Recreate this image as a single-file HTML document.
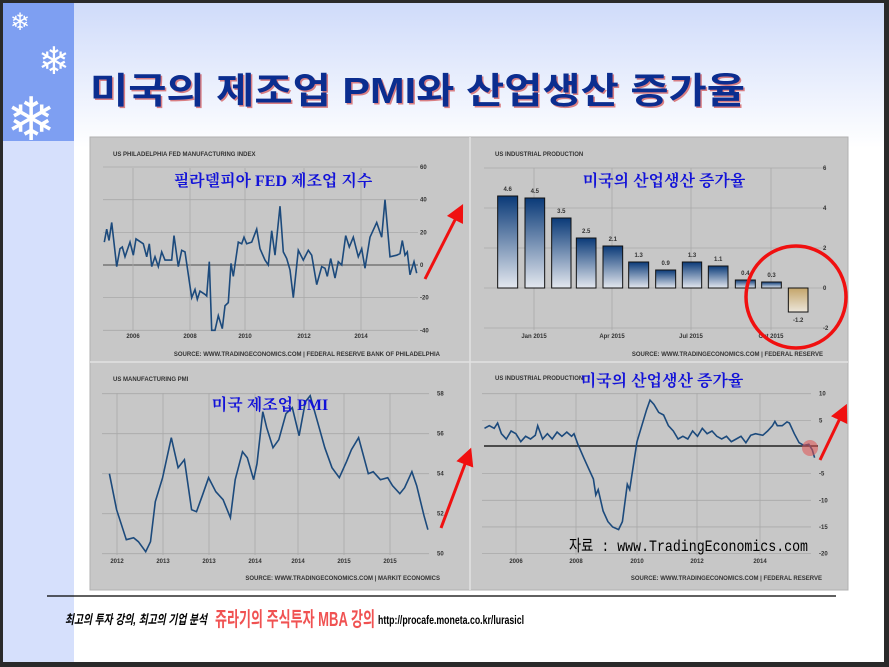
<!DOCTYPE html>
<html><head><meta charset="utf-8"><style>
html,body{margin:0;padding:0;background:#222}
svg{display:block}
</style></head><body>
<svg id="s" width="889" height="667" xmlns="http://www.w3.org/2000/svg" font-family="Liberation Sans, Noto Sans CJK KR, sans-serif">
<defs>
<linearGradient id="bg" x1="0" y1="0" x2="0" y2="1">
<stop offset="0" stop-color="#cfdbfa"/><stop offset="0.22" stop-color="#ffffff"/><stop offset="1" stop-color="#ffffff"/>
</linearGradient>
<linearGradient id="bar" x1="0" y1="0" x2="0" y2="1">
<stop offset="0" stop-color="#0a3a78"/><stop offset="1" stop-color="#e4e8ef"/>
</linearGradient>
<linearGradient id="nbar" x1="0" y1="0" x2="0" y2="1">
<stop offset="0" stop-color="#c4a56a"/><stop offset="1" stop-color="#ece6da"/>
</linearGradient>
<marker id="ah" markerWidth="6" markerHeight="6" refX="3" refY="3" orient="auto" markerUnits="strokeWidth"><path d="M0,0 L6,3 L0,6 z" fill="#f01010"/></marker>
</defs>
<rect width="889" height="667" fill="#2a2a2a"/>
<rect x="3" y="3" width="881" height="659" fill="url(#bg)"/>
<rect x="3" y="3" width="71" height="138" fill="#7e9ff2"/>
<rect x="3" y="141" width="71" height="521" fill="#d6e0fc"/>
<g fill="#fff" font-size="20"><text x="10" y="30" font-size="24">❄</text><text x="38" y="74" font-size="38">❄</text><text x="6" y="140" font-size="60">❄</text></g>
<text x="90" y="103" font-size="36" font-weight="bold" fill="#c33" textLength="655" lengthAdjust="spacingAndGlyphs" opacity="0.6" transform="translate(1.5,1.5)">미국의 제조업 PMI와 산업생산 증가율</text>
<text x="90" y="103" font-size="36" font-weight="bold" fill="#0b2d8f" textLength="655" lengthAdjust="spacingAndGlyphs">미국의 제조업 PMI와 산업생산 증가율</text>
<rect x="90" y="137" width="758" height="453" fill="#c7c7c7" stroke="#b0b0b0"/>
<line x1="470" y1="137" x2="470" y2="590" stroke="#e2e2e2" stroke-width="1.5"/>
<line x1="90" y1="362" x2="848" y2="362" stroke="#e2e2e2" stroke-width="1.5"/>
<g id="g" stroke="#a9a9a9" stroke-width="0.8" fill="none"></g>
<g id="lines" fill="none" stroke="#1c4a7c" stroke-width="1.6"></g>
<g id="bars"></g>
<g font-size="6" fill="#333" font-weight="bold" id="lbl"></g>
<g font-family="Liberation Serif, Noto Serif CJK SC, serif" fill="#1212d8" font-size="16" font-weight="bold" text-anchor="middle">
<text x="273" y="186">필라델피아 FED 제조업 지수</text>
<text x="664" y="186">미국의 산업생산 증가율</text>
<text x="270" y="410">미국 제조업 PMI</text>
<text x="662" y="386">미국의 산업생산 증가율</text>
</g>
<text x="569" y="551" font-family="Liberation Mono, Noto Sans CJK KR, monospace" font-size="16" fill="#000" textLength="239" lengthAdjust="spacingAndGlyphs">자료 : www.TradingEconomics.com</text>
<ellipse cx="796" cy="297" rx="50" ry="51" fill="none" stroke="#f01010" stroke-width="3.5"/>
<circle cx="810" cy="448" r="8" fill="#e05050" opacity="0.55"/>
<g stroke="#f01010" stroke-width="3" marker-end="url(#ah)">
<line x1="425" y1="279" x2="459" y2="212"/>
<line x1="441" y1="528" x2="468" y2="456"/>
<line x1="820" y1="460" x2="843" y2="412"/>
</g>
<line x1="47" y1="596" x2="836" y2="596" stroke="#000" stroke-width="1.2"/>
<text x="65" y="624" font-size="13" font-style="italic" font-weight="bold" fill="#000" textLength="142" lengthAdjust="spacingAndGlyphs">최고의 투자 강의, 최고의 기업 분석</text>
<text x="215" y="626" font-size="20" font-weight="bold" fill="#f05252" textLength="160" lengthAdjust="spacingAndGlyphs">쥬라기의 주식투자 MBA 강의</text>
<text x="378" y="624" font-size="12" font-weight="bold" fill="#000" textLength="146" lengthAdjust="spacingAndGlyphs">http://procafe.moneta.co.kr/lurasicl</text>
</svg>
<script>
var NS="http://www.w3.org/2000/svg";
function el(p,t,a,txt){var e=document.createElementNS(NS,t);for(var k in a)e.setAttribute(k,a[k]);if(txt!=null)e.textContent=txt;document.getElementById(p).appendChild(e);return e;}
function hl(x1,x2,y,c,w){el('g','line',{x1:x1,x2:x2,y1:y,y2:y,stroke:c||'#a9a9a9','stroke-width':w||0.8});}
function vl(x,y1,y2){el('g','line',{x1:x,x2:x,y1:y1,y2:y2});}
function tx(x,y,s,a){var o={x:x,y:y};if(a)o['text-anchor']=a;el('lbl','text',o,s);}
var p1=[[43,14],[50,22],[57,15],[65,26],[80,-1],[90,10],[97,11],[105,5],[120,14],[130,6],[138,16],[160,13],[170,5],[178,13],[185,-1],[195,5],[205,-1],[215,8],[225,3],[245,3],[252,18],[265,-1],[275,9],[285,8],[305,-20],[315,-15],[322,-21],[330,-16],[345,-18],[350,-19],[358,2],[365,-40],[375,-40],[385,-31],[397,-39],[405,-25],[415,-23],[423,1],[430,-7],[445,14],[455,13],[462,17],[470,13],[485,14],[500,22],[510,10],[525,3],[535,0],[545,21],[555,6],[570,36],[580,8],[590,4],[600,-3],[610,-20],[625,9],[640,3],[655,9],[665,6],[680,-12],[695,-1],[705,-2],[712,-7],[722,4],[735,-8],[745,2],[755,0],[767,18],[778,11],[790,17],[805,5],[815,10],[825,-2],[840,17],[860,26],[875,17],[885,40],[900,5],[920,6],[930,7],[937,15],[945,6],[952,8],[960,-6],[972,2],[980,-5]];
[60,40,20,-20,-40].forEach(function(v){hl(103,418,265-1.633*v);tx(420,265-1.633*v+2,String(v));});
hl(103,418,265,'#666',1.2);tx(420,267,'0');
[[133,'2006'],[190,'2008'],[245,'2010'],[304,'2012'],[361,'2014']].forEach(function(a){vl(a[0],168,330);tx(a[0],338,a[1],'middle');});
el('lines','path',{d:'M'+p1.map(function(p){return (90+p[0]/3).toFixed(1)+','+(265-1.633*p[1]).toFixed(1)}).join(' L')});
tx(113,156,'US PHILADELPHIA FED MANUFACTURING INDEX');
tx(440,356,'SOURCE: WWW.TRADINGECONOMICS.COM | FEDERAL RESERVE BANK OF PHILADELPHIA','end');
[6,4,2,0,-2].forEach(function(v){hl(484,826,288-20*v);tx(823,288-20*v+2,String(v));});
[[534,'Jan 2015'],[612,'Apr 2015'],[691,'Jul 2015'],[771,'Oct 2015']].forEach(function(a){vl(a[0],168,330);tx(a[0],338,a[1],'middle');});
var bx=[[83,143],[165,224],[245,303],[319,378],[399,458],[476,536],[557,617],[637,695],[715,774],[796,856],[875,934],[955,1014]];
var bv=[4.6,4.5,3.5,2.5,2.1,1.3,0.9,1.3,1.1,0.4,0.3,-1.2];
bx.forEach(function(b,i){var x=470+b[0]/3,w=(b[1]-b[0])/3,v=bv[i];var y=v>=0?288-20*v:288;var h=Math.abs(20*v);
el('bars','rect',{x:x,y:y,width:w,height:h,fill:v>=0?'url(#bar)':'url(#nbar)',stroke:'#111','stroke-width':1});
tx(x+w/2,v>=0?y-5:y+h+10,String(v),'middle');});
tx(495,156,'US INDUSTRIAL PRODUCTION');
tx(823,356,'SOURCE: WWW.TRADINGECONOMICS.COM | FEDERAL RESERVE','end');
var f=2.066;
[58,56,54,52,50].forEach(function(v){var y=553.7-20*(v-50);hl(102,429,y);tx(437,y+2,String(v));});
[[117,'2012'],[163,'2013'],[209,'2013'],[255,'2014'],[298,'2014'],[344,'2015'],[390,'2015']].forEach(function(a){vl(a[0],393,555);tx(a[0],563,a[1],'middle');});
var p3=[[40,54],[55,52.2],[75,50.7],[90,50.8],[100,50.6],[115,50.1],[125,50.6],[135,52.6],[150,53.8],[168,55.8],[182,54.3],[195,54.7],[210,52.2],[220,52.1],[232,52.9],[245,53.8],[260,53.1],[275,52.7],[290,51.8],[300,53.7],[315,55.1],[325,54.8],[338,53.7],[345,54.5],[357,57.1],[365,56.3],[378,55.3],[390,55.7],[405,57.0],[418,57.3],[432,55.9],[445,57.6],[455,57.9],[470,56.6],[485,55.3],[500,54.3],[515,53.8],[530,54.6],[540,55.2],[555,55.8],[575,54.0],[585,54.1],[600,53.7],[615,53.8],[625,53.4],[640,53.0],[650,53.3],[665,54.1],[675,53.4],[690,51.9],[698,51.2]];
el('lines','path',{d:'M'+p3.map(function(p){return (90+p[0]/f).toFixed(1)+','+(553.7-20*(p[1]-50)).toFixed(1)}).join(' L')});
tx(113,381,'US MANUFACTURING PMI');
tx(440,580,'SOURCE: WWW.TRADINGECONOMICS.COM | MARKIT ECONOMICS','end');
[10,5,-5,-10,-15,-20].forEach(function(v){var y=447-5.33*v;hl(482,811,y);tx(819,y+2,String(v));});
[[516,'2006'],[576,'2008'],[637,'2010'],[697,'2012'],[760,'2014']].forEach(function(a){vl(a[0],393,555);tx(a[0],563,a[1],'middle');});
hl(484,818,446,'#222',1.5);
var p4=[[815,3.5],[825,4],[835,3.5],[842,4.5],[850,2.5],[860,1.5],[870,3],[880,2.5],[890,1],[900,2],[910,1.5],[920,2.2],[925,4],[935,1.5],[945,2.5],[955,1.5],[965,2.8],[975,2],[985,2.8],[995,2],[1000,2.5],[1008,0.5],[1020,-2],[1030,-4],[1040,-6],[1045,-9],[1050,-8],[1060,-12],[1070,-14],[1080,-15],[1092,-15.5],[1100,-14],[1110,-7],[1115,-8],[1125,-2],[1130,1],[1140,4],[1150,7],[1157,8.8],[1165,8],[1175,6.5],[1185,6],[1195,4],[1205,3],[1215,1.5],[1225,2],[1235,1.5],[1245,3],[1255,2],[1265,3.5],[1275,2.5],[1285,3],[1295,2],[1305,1.5],[1315,2],[1325,1],[1335,1.5],[1345,2],[1355,0.8],[1365,2.2],[1375,2.5],[1390,2.2],[1400,3],[1410,4],[1415,4.8],[1420,4],[1430,4],[1440,4.7],[1445,4.5],[1455,2.5],[1465,0.8],[1475,0.3],[1485,0.5],[1492,-0.5],[1497,-2]];
el('lines','path',{d:'M'+p4.map(function(p){return (90+p[0]/f).toFixed(1)+','+(447-5.33*p[1]).toFixed(1)}).join(' L')});
tx(495,380,'US INDUSTRIAL PRODUCTION');
tx(822,580,'SOURCE: WWW.TRADINGECONOMICS.COM | FEDERAL RESERVE','end');
</script>
</body></html>
